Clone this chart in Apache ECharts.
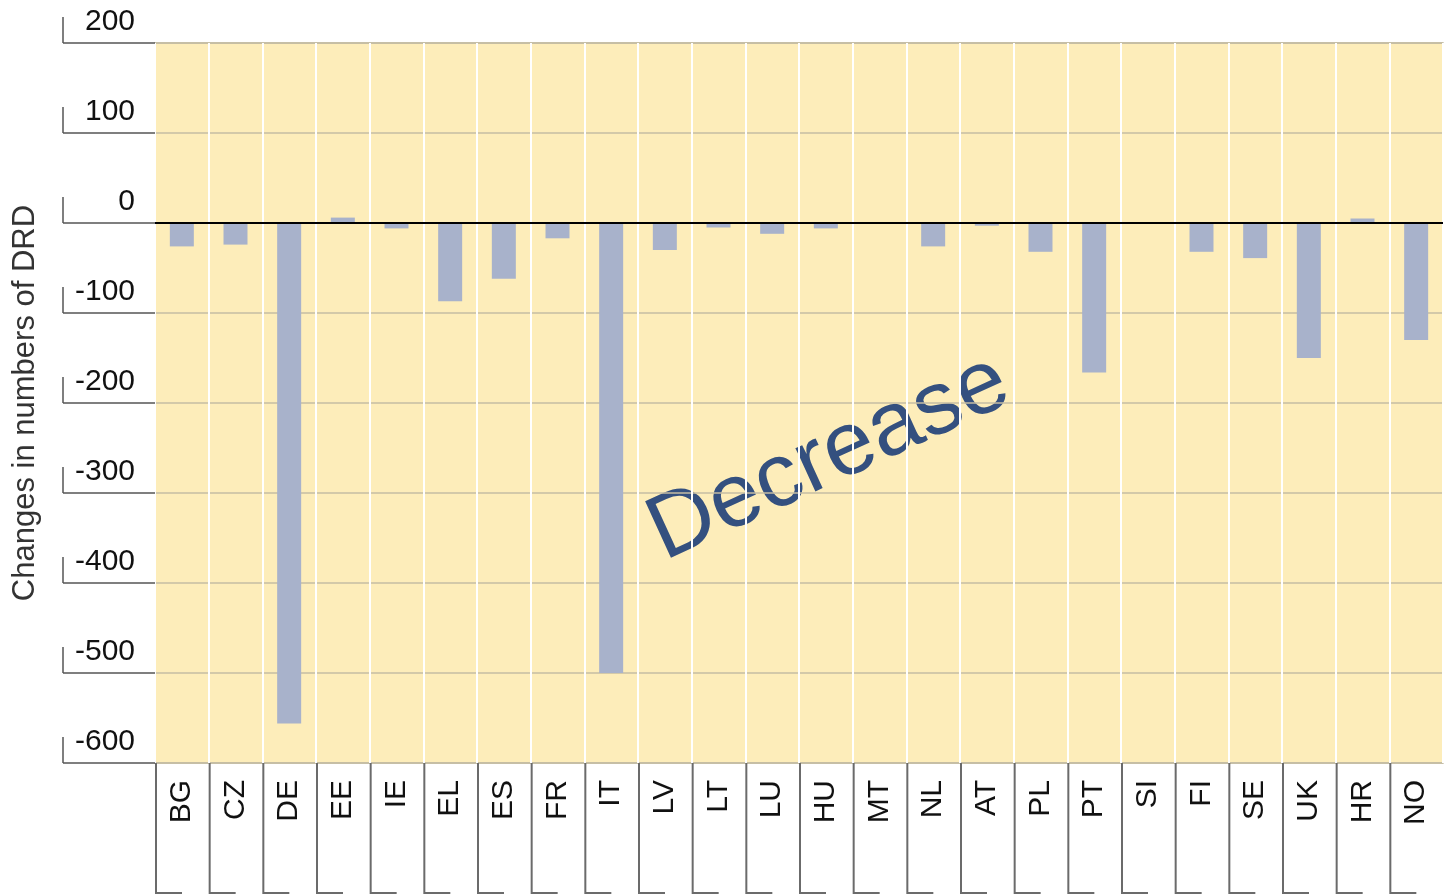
<!DOCTYPE html>
<html>
<head>
<meta charset="utf-8">
<script src="https://cdn.jsdelivr.net/npm/echarts@6/dist/echarts.min.js"></script>
<style>
  html, body { margin: 0; padding: 0; background: #fff; }
  #main { width: 1447px; height: 895px; }
</style>
</head>
<body>
<div id="main"></div>
<script>
// country codes along the x axis
const countries = ['BG', 'CZ', 'DE', 'EE', 'IE', 'EL', 'ES', 'FR', 'IT', 'LV', 'LT', 'LU',
  'HU', 'MT', 'NL', 'AT', 'PL', 'PT', 'SI', 'FI', 'SE', 'UK', 'HR', 'NO']
// change in numbers of DRD
const changes = [-26, -24, -556, 6, -6, -87, -62, -17, -500, -30, -5, -12,
  -6, 0, -26, -3, -32, -166, 0, -32, -39, -150, 5, -130]
const yTicks = [200, 100, 0, -100, -200, -300, -400, -500, -600]

const font = "'Liberation Sans', Arial, sans-serif"
const chartDom = document.getElementById('main')
const myChart = echarts.init(chartDom)

const option = {
  animation: false,
  grid: {
    left: 155,
    right: 4,
    top: 43,
    bottom: 132,
    containLabel: false,
    outerBoundsMode: 'none',
    show: true,
    backgroundColor: '#fdedba',
    borderColor: '#bcb59b',
    borderWidth: 1.5
  },
  xAxis: {
    type: 'category',
    data: countries,
    axisLine: { show: false, onZero: false },
    axisTick: { show: false },
    axisLabel: {
      rotate: 90,
      margin: 17,
      fontSize: 30,
      fontFamily: font,
      color: '#111'
    },
    splitLine: {
      show: true,
      lineStyle: { color: '#ffffff', width: 2 }
    }
  },
  yAxis: {
    type: 'value',
    min: -600,
    max: 200,
    interval: 100,
    name: 'Changes in numbers of DRD',
    nameLocation: 'middle',
    nameGap: 114,
    nameTextStyle: {
      fontSize: 31,
      fontFamily: font,
      color: '#333'
    },
    axisLine: { show: false },
    axisTick: {
      show: true,
      length: 92,
      lineStyle: { color: '#555', width: 1.5 }
    },
    axisLabel: {
      margin: 20,
      fontSize: 30,
      fontFamily: font,
      color: '#111',
      verticalAlign: 'bottom',
      padding: [0, 0, 6, 0]
    },
    splitLine: {
      lineStyle: { color: '#c4bda3', width: 1.5 }
    }
  },
  graphic: [
    {
      type: 'text',
      x: 829,
      y: 458,
      rotation: 0.43,
      style: {
        text: 'Decrease',
        fontSize: 90,
        fontFamily: font,
        fill: '#34507f',
        align: 'center',
        verticalAlign: 'middle'
      }
    }
  ],
  series: [
    {
      name: 'change',
      type: 'bar',
      data: changes,
      barWidth: 24,
      itemStyle: { color: '#a8b2cb' },
      markLine: {
        silent: true,
        symbol: 'none',
        label: { show: false },
        lineStyle: { color: '#000', width: 2, type: 'solid' },
        data: [{ yAxis: 0 }]
      }
    },
    {
      // vertical part of the bracket beside each y label
      name: 'ybrackets',
      type: 'custom',
      clip: false,
      silent: true,
      data: yTicks.map(v => [0, v]),
      renderItem: function(params, api) {
        const y = api.coord([0, api.value(1)])[1]
        const x = params.coordSys.x - 92
        return {
          type: 'line',
          shape: { x1: x, y1: y - 26, x2: x, y2: y },
          style: { stroke: '#555', lineWidth: 1.5 }
        }
      }
    },
    {
      // label columns below the plot: left edge of each cell plus a small foot
      name: 'xcells',
      type: 'custom',
      clip: false,
      silent: true,
      data: countries.map((c, i) => [i, 0]),
      renderItem: function(params, api) {
        const cx = api.coord([api.value(0), 0])[0]
        const half = api.size([1, 0])[0] / 2
        const x = cx - half + 1
        const top = params.coordSys.y + params.coordSys.height
        const y = top + 130
        return {
          type: 'polyline',
          shape: { points: [[x, top], [x, y], [x + 26, y]] },
          style: { stroke: '#6b6b6b', lineWidth: 2, fill: null }
        }
      }
    }
  ]
}

myChart.setOption(option)
</script>
</body>
</html>
